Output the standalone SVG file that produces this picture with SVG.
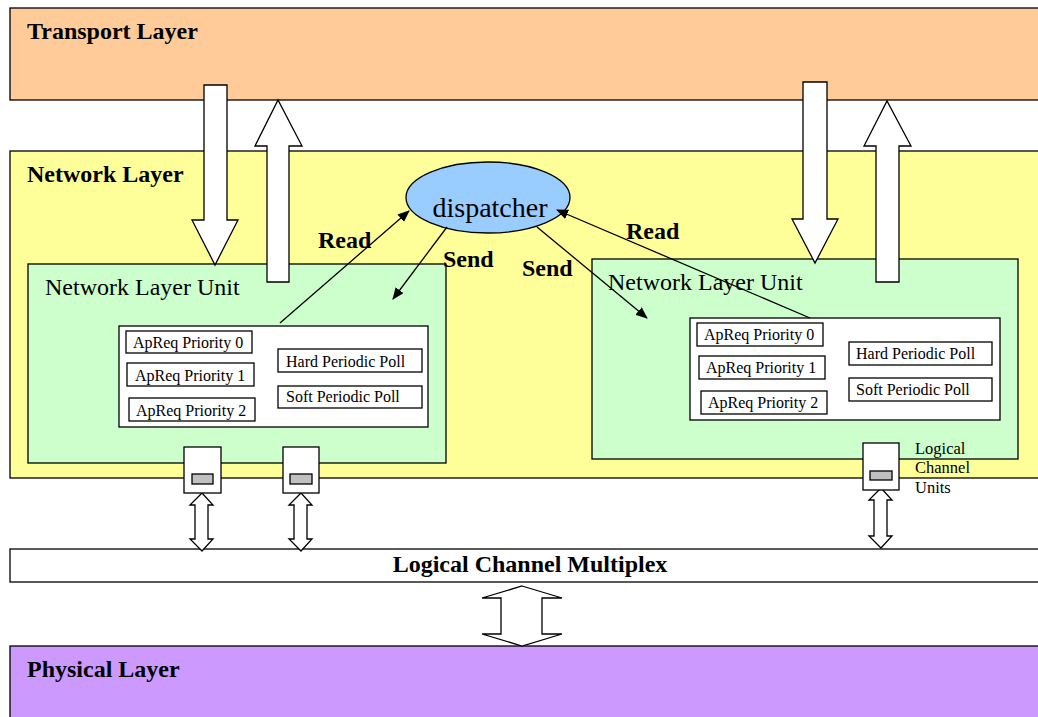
<svg xmlns="http://www.w3.org/2000/svg" width="1038" height="717" viewBox="0 0 1038 717">
<style>
.layer{stroke:#000;stroke-width:1.3}
.bold{font-family:"Liberation Serif",serif;font-weight:bold;font-size:24px;fill:#000}
.unit{font-family:"Liberation Serif",serif;font-size:24px;fill:#000}
.small{font-family:"Liberation Serif",serif;font-size:16px;fill:#000}
.lcu{font-family:"Liberation Serif",serif;font-size:16.5px;fill:#000}
.box{fill:#fff;stroke:#000;stroke-width:1.3}
.arrow{fill:#fff;stroke:#000;stroke-width:1.3;stroke-linejoin:miter}
.con{stroke:#000;stroke-width:1.3;fill:none;marker-end:url(#ah)}
.gray{fill:#C0C0C0;stroke:#000;stroke-width:1.3}
</style>
<defs>
<marker id="ah" viewBox="0 0 12 10" refX="11" refY="5" markerWidth="12" markerHeight="10" markerUnits="userSpaceOnUse" orient="auto">
<path d="M0,0 L12,5 L0,10 Z" fill="#000"/>
</marker>
</defs>
<rect width="1038" height="717" fill="#fff"/>

<g id="transport-layer">
<rect class="layer" x="10" y="8" width="1040" height="92" fill="#FFCC99"/>
<text class="bold" x="27" y="39">Transport Layer</text>
</g>

<g id="network-layer">
<rect class="layer" x="10" y="151" width="1040" height="327" fill="#FFFF99"/>
<text class="bold" x="27" y="182">Network Layer</text>
</g>

<g id="dispatcher">
<ellipse cx="488" cy="197.5" rx="82" ry="35.5" fill="#99CCFF" stroke="#000" stroke-width="1.3"/>
<text x="490" y="217" text-anchor="middle" font-family="Liberation Serif, serif" font-size="28">dispatcher</text>
</g>

<g id="nlu-left">
<rect class="layer" x="28" y="264" width="418" height="199" fill="#CCFFCC"/>
<text class="unit" x="45" y="295">Network Layer Unit</text>
<rect class="box" x="119" y="326" width="309" height="101"/>
<g id="left-apreq0"><rect class="box" x="126" y="331" width="126" height="22"/><text class="small" x="133" y="348">ApReq Priority 0</text></g>
<g id="left-apreq1"><rect class="box" x="127" y="363" width="127" height="23"/><text class="small" x="135" y="381">ApReq Priority 1</text></g>
<g id="left-apreq2"><rect class="box" x="129" y="398" width="126" height="23"/><text class="small" x="136" y="416">ApReq Priority 2</text></g>
<g id="left-hard"><rect class="box" x="278" y="349" width="144" height="23"/><text class="small" x="286" y="367">Hard Periodic Poll</text></g>
<g id="left-soft"><rect class="box" x="278" y="386" width="144" height="22"/><text class="small" x="286" y="402">Soft Periodic Poll</text></g>
</g>

<g id="nlu-right">
<rect class="layer" x="592" y="259" width="426" height="200" fill="#CCFFCC"/>
<text class="unit" x="608" y="290">Network Layer Unit</text>
<rect class="box" x="690" y="318" width="310" height="102"/>
<g id="right-apreq0"><rect class="box" x="697" y="323" width="126" height="23"/><text class="small" x="704" y="340">ApReq Priority 0</text></g>
<g id="right-apreq1"><rect class="box" x="699" y="356" width="126" height="23"/><text class="small" x="706" y="373">ApReq Priority 1</text></g>
<g id="right-apreq2"><rect class="box" x="701" y="391" width="126" height="23"/><text class="small" x="708" y="408">ApReq Priority 2</text></g>
<g id="right-hard"><rect class="box" x="849" y="342" width="143" height="23"/><text class="small" x="856" y="359">Hard Periodic Poll</text></g>
<g id="right-soft"><rect class="box" x="849" y="378" width="143" height="23"/><text class="small" x="856" y="395">Soft Periodic Poll</text></g>
</g>

<g id="lcm">
<rect class="layer" x="10" y="549" width="1040" height="33" fill="#fff"/>
<text class="bold" x="530" y="572" text-anchor="middle">Logical Channel Multiplex</text>
</g>

<g id="physical-layer">
<rect class="layer" x="10" y="646" width="1040" height="80" fill="#CC99FF"/>
<text class="bold" x="27" y="677">Physical Layer</text>
</g>

<g id="connectors">
<path class="arrow" d="M204,85 H227 V220 H238 L215,265 L192,220 H204 Z"/>
<path class="arrow" d="M267,282 V146 H255 L278,100 L302,146 H289 V282 Z"/>
<path class="arrow" d="M803,82 H827 V219 H838 L815,263 L792,219 H803 Z"/>
<path class="arrow" d="M876,282 V146 H864 L887,101 L911,146 H899 V282 Z"/>
<line class="con" x1="280" y1="323" x2="409" y2="211"/>
<line class="con" x1="447" y1="227" x2="393" y2="299"/>
<line class="con" x1="537" y1="227" x2="647" y2="318"/>
<line class="con" x1="810" y1="318" x2="557" y2="210"/>
<path class="arrow" d="M202,493 L213,505 H208 V539 H213 L202,551 L190,539 H195 V505 H190 Z"/>
<path class="arrow" d="M301,493 L312,505 H307 V539 H312 L301,551 L289,539 H294 V505 H289 Z"/>
<path class="arrow" d="M881,488 L892,500 H887 V536 H892 L881,548 L869,536 H874 V500 H869 Z"/>
<path class="arrow" d="M522,586 L562,598 H542 V634 H562 L522,646 L482,634 H501 V598 H482 Z"/>
</g>

<g id="labels">
<text class="bold" x="318" y="248">Read</text>
<text class="bold" x="443" y="267">Send</text>
<text class="bold" x="522" y="276">Send</text>
<text class="bold" x="626" y="239">Read</text>
</g>

<g id="lcu-left-1">
<rect class="box" x="184" y="447" width="37" height="46"/>
<rect class="gray" x="192" y="474" width="21" height="10"/>
</g>
<g id="lcu-left-2">
<rect class="box" x="283" y="447" width="36" height="46"/>
<rect class="gray" x="290" y="474" width="22" height="10"/>
</g>
<g id="lcu-right">
<rect class="box" x="863" y="443" width="36" height="47"/>
<rect class="gray" x="870" y="471" width="22" height="9"/>
<text class="lcu" x="915" y="454">Logical</text>
<text class="lcu" x="915" y="473">Channel</text>
<text class="lcu" x="915" y="493">Units</text>
</g>
</svg>
